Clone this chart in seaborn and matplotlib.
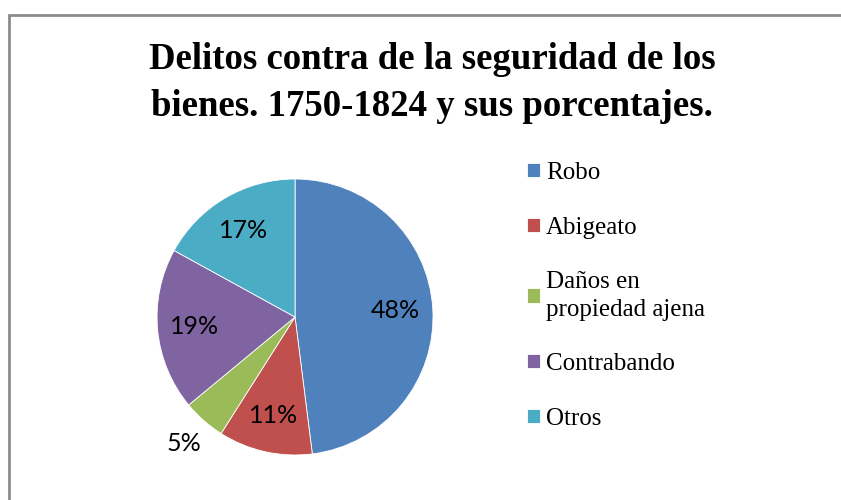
import matplotlib.pyplot as plt
import seaborn as sns

# Data
categories = ['Robo', 'Abigeato', 'Daños en\npropiedad ajena', 'Contrabando', 'Otros']
percentages = [48, 11, 5, 19, 17]
colors = ['#4F81BD', '#C0504D', '#9BBB59', '#8064A2', '#4BACC6']
title = 'Delitos contra de la seguridad de los\nbienes. 1750-1824 y sus porcentajes.'

sns.set_theme(style='white')
plt.rcParams['font.family'] = ['Liberation Serif', 'DejaVu Serif']
plt.rcParams['text.color'] = 'black'

fig = plt.figure(figsize=(8.41, 5), dpi=100)
fig.patch.set_facecolor('white')

# chart border (cropped on the right and bottom like the source)
border = plt.Rectangle((9 / 841, -0.1), 1.2, 1.1 - 15 / 500, transform=fig.transFigure,
                       fill=False, edgecolor='#8c8c8c', linewidth=2)
fig.patches.append(border)

ax = fig.add_axes([0.1457, 0.021, 0.4102, 0.69])
wedges, texts, autotexts = ax.pie(
    percentages, colors=colors, startangle=90, counterclock=False,
    autopct='%1.0f%%', pctdistance=0.73,
    wedgeprops={'edgecolor': 'white', 'linewidth': 0.6},
    textprops={'family': 'Lato', 'fontsize': 18, 'color': 'black'})
ax.set_xlim(-1.25, 1.25)
ax.set_ylim(-1.25, 1.25)
ax.set_aspect('equal')

# the small slice label sits outside the pie
for t, v in zip(autotexts, percentages):
    if v < 8:
        x, y = t.get_position()
        t.set_position((x * 1.22 / 0.73, y * 1.22 / 0.73))

fig.text(0.5137, 1 - 83 / 500, title, ha='center', va='center', fontsize=26.5,
         fontweight='bold', linespacing=1.45)

leg = fig.legend(wedges, categories, loc='upper left', bbox_to_anchor=(527 / 841, 1 - 162 / 500),
                 frameon=False, fontsize=18, borderpad=0, handlelength=0.5, handleheight=0.5,
                 handletextpad=0.25, labelspacing=1.3, borderaxespad=0)
for t in leg.get_texts():
    t.set_linespacing(1.33)

fig.savefig('out.png', dpi=100)
